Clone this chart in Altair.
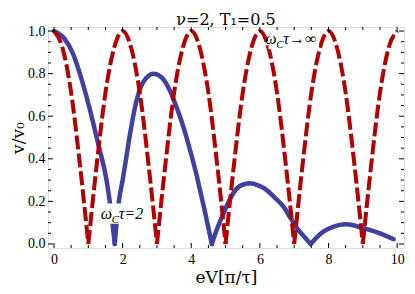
import altair as alt
import pandas as pd

# ---------------- data ----------------
red_x = [0, 0.25, 0.5, 0.75, 1, 1.25, 1.5, 1.75, 2, 2.25, 2.5, 2.75, 3,
         3.25, 3.5, 3.75, 4, 4.25, 4.5, 4.75, 5, 5.25, 5.5, 5.75, 6,
         6.25, 6.5, 6.75, 7, 7.25, 7.5, 7.75, 8, 8.25, 8.5, 8.75, 9,
         9.25, 9.5, 9.75, 10]
red_y = [1.0, 0.92, 0.71, 0.38, 0.0, 0.38, 0.71, 0.92, 1.0, 0.92, 0.71, 0.38, 0.0,
         0.38, 0.71, 0.92, 1.0, 0.92, 0.71, 0.38, 0.0, 0.38, 0.71, 0.92, 1.0,
         0.92, 0.71, 0.38, 0.0, 0.38, 0.71, 0.92, 1.0, 0.92, 0.71, 0.38, 0.0,
         0.38, 0.71, 0.92, 1.0]

blue_x = [0, 0.3, 0.55, 0.8, 1.04, 1.28, 1.53, 1.65, 1.77,
          1.89, 2.0, 2.11, 2.22, 2.4, 2.6, 2.9, 3.15, 3.38, 3.6, 3.77, 4.0, 4.16, 4.26, 4.4, 4.6,
          4.75, 4.94, 5.23, 5.45, 5.71, 5.95, 6.2, 6.45, 6.69, 6.9, 7.12, 7.3, 7.48,
          7.65, 7.85, 8.14, 8.48, 8.75, 9.02, 9.5, 9.9]
blue_y = [1.0, 0.965, 0.895, 0.775, 0.635, 0.475, 0.3, 0.17, 0.0,
          0.2, 0.3, 0.41, 0.52, 0.67, 0.76, 0.80, 0.78, 0.72, 0.63, 0.55, 0.42, 0.32, 0.25, 0.15, 0.0,
          0.07, 0.144, 0.24, 0.275, 0.285, 0.275, 0.253, 0.215, 0.175, 0.12, 0.066, 0.033, 0.0,
          0.03, 0.058, 0.08, 0.092, 0.087, 0.074, 0.05, 0.022]

x_major = [0, 2, 4, 6, 8, 10]
x_minor = [0.5, 1, 1.5, 2.5, 3, 3.5, 4.5, 5, 5.5, 6.5, 7, 7.5, 8.5, 9, 9.5]
y_major = [0.0, 0.2, 0.4, 0.6, 0.8, 1.0]
y_minor = [0.05, 0.1, 0.15, 0.25, 0.3, 0.35, 0.45, 0.5, 0.55, 0.65, 0.7, 0.75,
           0.85, 0.9, 0.95]

# curve labels: anchor (baseline) and white box behind each
label_x = [2.0, 7.0]
label_y = [0.117, 0.94]
box_x1 = [1.32, 6.25]
box_x2 = [2.7, 7.72]
box_y1 = [0.095, 0.915]
box_y2 = [0.19, 0.995]

title_text = "ν=2, T₁=0.5"
x_title = "eV[π/τ]"
y_title = "v/v₀"

W, H = 356, 221
RED = "#b00000"
BLUE = "#4040a0"
SERIF = "Liberation Serif"


def segments(xs, ys):
    rows, seg = [], 0
    for i, (a, b) in enumerate(zip(xs, ys)):
        rows.append({"x": a, "y": b, "seg": seg})
        if b == 0 and 0 < i < len(xs) - 1:
            seg += 1
            rows.append({"x": a, "y": b, "seg": seg})
    return pd.DataFrame(rows)


red_df = segments(red_x, red_y)
blue_df = segments(blue_x, blue_y)

xscale = alt.Scale(domain=[-0.175, 10.2], nice=False, zero=False)
yscale = alt.Scale(domain=[-0.019, 1.019], nice=False, zero=False)

xaxis = alt.Axis(values=x_major, ticks=False, domain=False, grid=False,
                 labelFont=SERIF, labelFontSize=14, labelColor="black",
                 labelPadding=4, title=x_title, titleFont="DejaVu Serif",
                 titleFontSize=17, titleFontWeight="normal", titleColor="black",
                 titleBaseline="alphabetic", titleY=34)
yaxis = alt.Axis(values=y_major, format=".1f", ticks=False, domain=False, grid=False,
                 labelFont=SERIF, labelFontSize=14, labelColor="black",
                 labelPadding=3, title=y_title, titleFont="DejaVu Serif",
                 titleFontSize=17, titleFontWeight="normal", titleColor="black",
                 titleBaseline="alphabetic", titleAngle=-90, titleX=-25, titleY=H / 2)

X = alt.X("x:Q", scale=xscale, axis=xaxis)
Y = alt.Y("y:Q", scale=yscale, axis=yaxis)

blue = alt.Chart(blue_df).mark_line(color=BLUE, strokeWidth=4.5, interpolate="monotone",
                                    strokeCap="round").encode(x=X, y=Y, detail="seg:N")
red = alt.Chart(red_df).mark_line(color=RED, strokeWidth=4, interpolate="monotone",
                                  strokeDash=[14, 4]).encode(x=X, y=Y, detail="seg:N")

layers = [blue, red]


def xticks(vals, ln):
    d = pd.DataFrame({"x": vals})
    b = alt.Chart(d).mark_rule(color="black", strokeWidth=1).encode(
        x=X, y=alt.value(H), y2=alt.value(H - ln))
    t = alt.Chart(d).mark_rule(color="black", strokeWidth=1).encode(
        x=X, y=alt.value(0), y2=alt.value(ln))
    return [b, t]


def yticks(vals, ln):
    d = pd.DataFrame({"y": vals})
    l = alt.Chart(d).mark_rule(color="black", strokeWidth=1).encode(
        y=Y, x=alt.value(0), x2=alt.value(ln))
    r = alt.Chart(d).mark_rule(color="black", strokeWidth=1).encode(
        y=Y, x=alt.value(W), x2=alt.value(W - ln))
    return [l, r]


layers += xticks(x_major, 5) + xticks(x_minor, 3) + yticks(y_major, 5) + yticks(y_minor, 3)

box_df = pd.DataFrame({"x": box_x1, "x2": box_x2, "y": box_y1, "y2": box_y2})
boxes = alt.Chart(box_df).mark_rect(color="white").encode(
    x=X, x2="x2:Q", y=Y, y2="y2:Q")
layers.append(boxes)

lab1 = pd.DataFrame({"x": [label_x[0]], "y": [label_y[0]]})
lab2 = pd.DataFrame({"x": [label_x[1]], "y": [label_y[1]]})


def txt(df, s, dx, dy=0, size=16):
    return alt.Chart(df).mark_text(
        text=s, dx=dx, dy=dy, align="left", baseline="alphabetic",
        font=SERIF, fontSize=size, fontStyle="italic", color="black"
    ).encode(x=X, y=Y)


layers += [
    txt(lab1, "ω", -22),
    txt(lab1, "C", -11, dy=4, size=11),
    txt(lab1, "τ=2", -4),
    txt(lab2, "ω", -29),
    txt(lab2, "C", -18, dy=4, size=11),
    txt(lab2, "τ→∞", -11),
]

chart = alt.layer(*layers).properties(
    width=W, height=H,
    title=alt.Title(title_text, font="DejaVu Serif", fontSize=16, fontWeight="normal",
                    color="black", anchor="middle", frame="group", offset=10, dy=16),
    autosize=alt.AutoSizeParams(type="none"),
    padding={"left": 40, "top": 19, "right": 3, "bottom": 38},
).configure_view(stroke="black", strokeWidth=1.3).configure(background="white")

chart.save("out.html", embed_options={"renderer": "svg", "actions": False})
